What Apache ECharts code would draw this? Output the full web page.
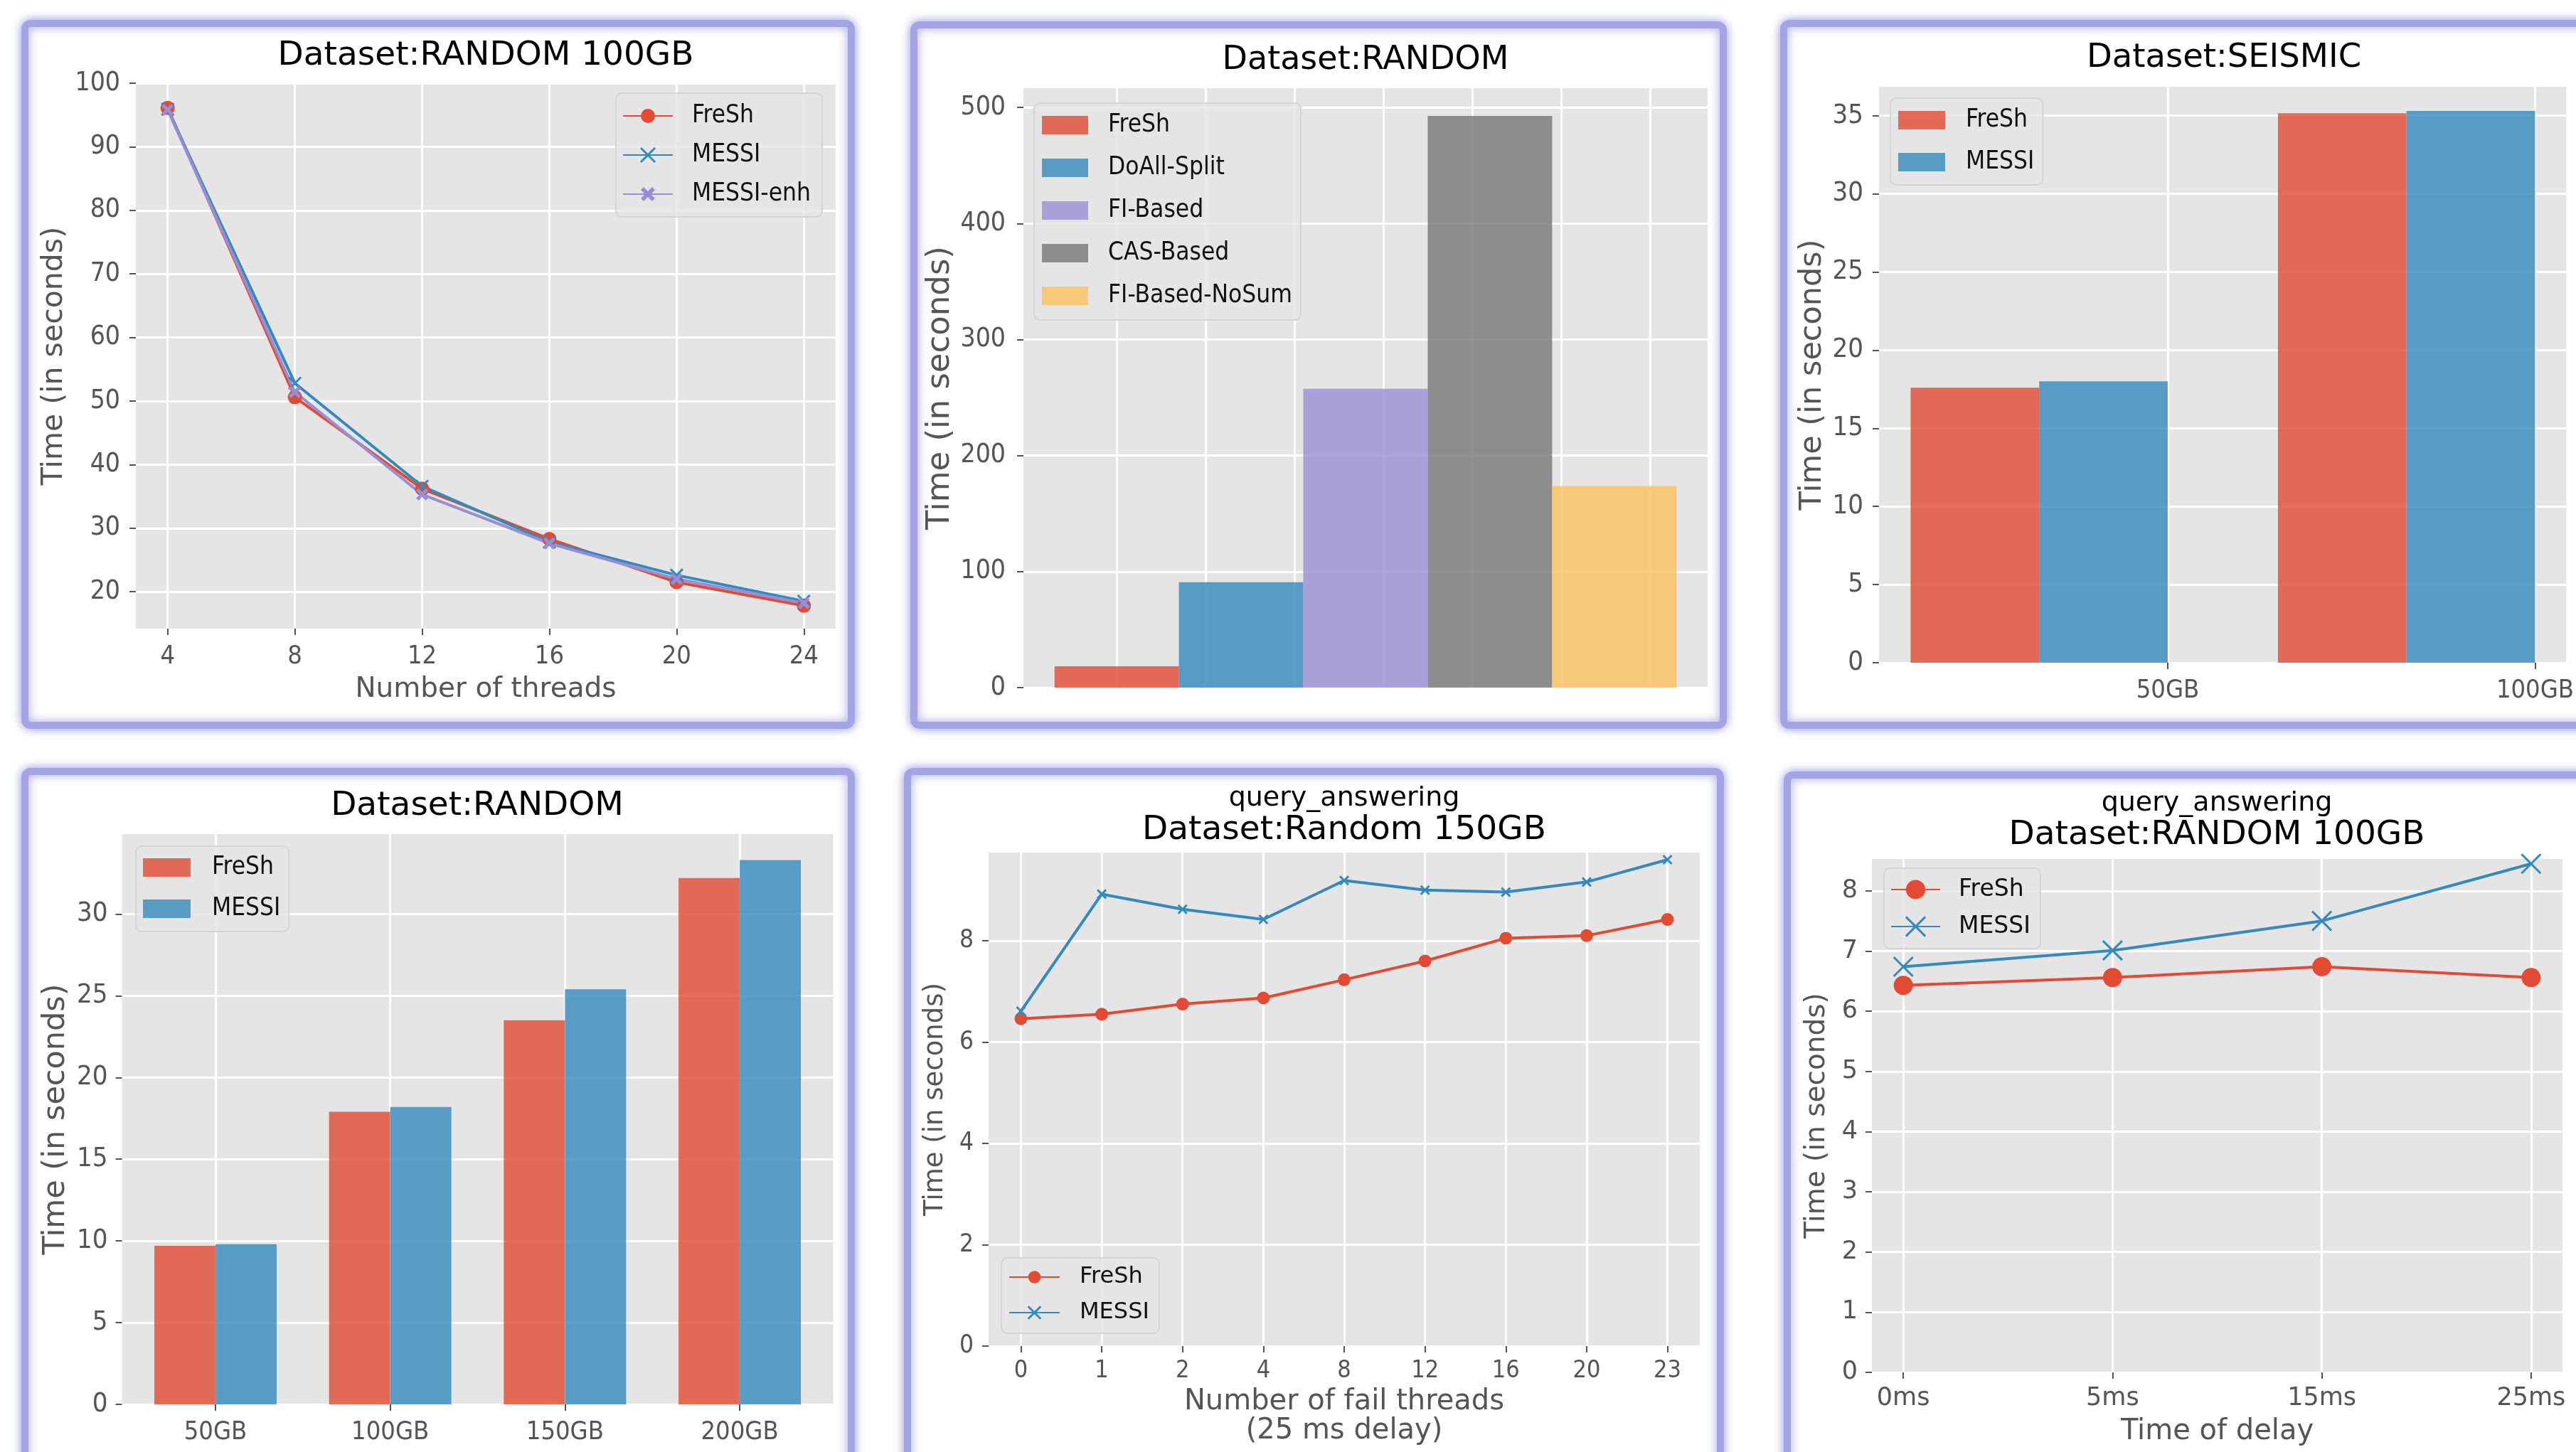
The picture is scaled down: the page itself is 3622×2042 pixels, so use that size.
<!DOCTYPE html>
<html><head><meta charset="utf-8">
<script src="https://cdn.jsdelivr.net/npm/echarts@6/dist/echarts.min.js"></script>
<style>html,body{margin:0;padding:0;background:#fff}#c{width:3622px;height:2042px}</style>
</head><body><div id="c"></div>
<script>
// ---------- DATA ----------
// Panel 1: Dataset:RANDOM 100GB
const p1Threads = [4, 8, 12, 16, 20, 24];
const p1FreSh = [96.1, 50.6, 36.2, 28.3, 21.5, 17.8];
const p1MESSI = [95.9, 52.8, 36.6, 27.8, 22.6, 18.5];
const p1MESSIenh = [95.8, 51.4, 35.3, 27.6, 22.0, 18.2];
const p1YTicks = [20, 30, 40, 50, 60, 70, 80, 90, 100];
// Panel 2: Dataset:RANDOM
const p2Methods = ['FreSh', 'DoAll-Split', 'FI-Based', 'CAS-Based', 'FI-Based-NoSum'];
const p2Times = [18.4, 90.9, 257.6, 492.7, 173.8];
const p2XTicks = [0, 0.1, 0.2, 0.3, 0.4, 0.5, 0.6];
const p2YTicks = [0, 100, 200, 300, 400, 500];
// Panel 3: Dataset:SEISMIC
const p3Sizes = ['50GB', '100GB'];
const p3FreSh = [17.6, 35.15];
const p3MESSI = [18.0, 35.3];
const p3YTicks = [0, 5, 10, 15, 20, 25, 30, 35];
// Panel 4: Dataset:RANDOM
const p4Sizes = ['50GB', '100GB', '150GB', '200GB'];
const p4FreSh = [9.7, 17.9, 23.5, 32.2];
const p4MESSI = [9.8, 18.2, 25.4, 33.3];
const p4YTicks = [0, 5, 10, 15, 20, 25, 30];
// Panel 5: query_answering, Dataset:Random 150GB
const p5FailThreads = ['0', '1', '2', '4', '8', '12', '16', '20', '23'];
const p5FreSh = [6.46, 6.55, 6.75, 6.87, 7.23, 7.60, 8.05, 8.10, 8.42];
const p5MESSI = [6.61, 8.92, 8.62, 8.42, 9.19, 9.00, 8.96, 9.16, 9.60];
const p5YTicks = [0, 2, 4, 6, 8];
// Panel 6: query_answering, Dataset:RANDOM 100GB
const p6Delays = ['0ms', '5ms', '15ms', '25ms'];
const p6FreSh = [6.43, 6.56, 6.74, 6.56];
const p6MESSI = [6.74, 7.01, 7.50, 8.45];
const p6YTicks = [0, 1, 2, 3, 4, 5, 6, 7, 8];

// ---------- STYLE ----------
const RED = '#E24A33', BLUE = '#348ABD', PURPLE = '#988ED5';
const BAR = {
  red: 'rgba(226,74,51,0.8)', blue: 'rgba(52,138,189,0.8)', purple: 'rgba(152,142,213,0.8)',
  gray: 'rgba(119,119,119,0.8)', yellow: 'rgba(251,193,94,0.8)'
};
const COND = 'DejaVu Sans Condensed, DejaVu Sans, sans-serif';
const NORM = 'DejaVu Sans, sans-serif';
const X_THIN = 'path://M0,0L10,10M10,0L0,10';
const X_FAT = 'path://M0,2L2,0L5,3L8,0L10,2L7,5L10,8L8,10L5,7L2,10L0,8L3,5Z';
const idx = arr => arr.map((_, i) => i);

const grids = [
  {left: 191, top: 117, width: 984, height: 767},
  {left: 1439, top: 124, width: 962, height: 843},
  {left: 2642, top: 122, width: 970, height: 810},
  {left: 171.5, top: 1173, width: 1000, height: 802},
  {left: 1390, top: 1199, width: 1000, height: 694},
  {left: 2632, top: 1208, width: 971, height: 722}
].map(g => Object.assign(g, {show: true, backgroundColor: '#E5E5E5', borderWidth: 0}));

function axis(o) {
  return {
    type: 'value', gridIndex: o.grid, min: o.min, max: o.max,
    axisLine: {show: false, onZero: false},
    axisTick: {show: o.tick !== false, customValues: o.ticks, length: 9, lineStyle: {color: '#555', width: 2}},
    axisLabel: {show: o.label !== false, customValues: o.ticks, formatter: o.fmt,
      color: '#555', fontFamily: o.font || COND, fontSize: o.fs || 36, margin: o.margin || 22},
    splitLine: {show: true, lineStyle: {color: '#fff', width: 3}},
    name: o.name, nameLocation: 'middle', nameGap: o.gap, nameRotate: o.rot,
    nameTextStyle: {color: '#555', fontFamily: NORM, fontSize: o.nfs || 40, lineHeight: o.nlh}
  };
}

const xAxes = [
  axis({grid: 0, min: 3, max: 25, ticks: p1Threads, fs: 36, name: 'Number of threads', gap: 66, nfs: 39}),
  axis({grid: 1, min: -0.105, max: 0.665, ticks: p2XTicks, tick: false, label: false}),
  axis({grid: 2, min: -0.786, max: 1.085, ticks: idx(p3Sizes), fmt: v => p3Sizes[Math.round(v)], fs: 36}),
  axis({grid: 3, min: -0.535, max: 3.535, ticks: idx(p4Sizes), fmt: v => p4Sizes[Math.round(v)], fs: 36}),
  axis({grid: 4, min: -0.4, max: 8.4, ticks: idx(p5FailThreads), fmt: v => p5FailThreads[Math.round(v)], fs: 34, margin: 18,
        name: 'Number of fail threads\n(25 ms delay)', gap: 58, nfs: 40, nlh: 41}),
  axis({grid: 5, min: -0.15, max: 3.15, ticks: idx(p6Delays), fmt: v => p6Delays[Math.round(v)], font: NORM, fs: 35, margin: 19,
        name: 'Time of delay', gap: 64, nfs: 40})
];
const yAxes = [
  axis({grid: 0, min: 14.2, max: 100, ticks: p1YTicks, fs: 37, name: 'Time (in seconds)', gap: 94, rot: 90, nfs: 41, margin: 22}),
  axis({grid: 1, min: 0, max: 516.6, ticks: p2YTicks, fs: 37, name: 'Time (in seconds)', gap: 94, rot: 90, nfs: 45, margin: 25}),
  axis({grid: 2, min: 0, max: 36.85, ticks: p3YTicks, fs: 38, name: 'Time (in seconds)', gap: 72, rot: 90, nfs: 43}),
  axis({grid: 3, min: 0, max: 34.89, ticks: p4YTicks, fs: 38, name: 'Time (in seconds)', gap: 71, rot: 90, nfs: 43, margin: 20}),
  axis({grid: 4, min: 0, max: 9.74, ticks: p5YTicks, fs: 35, name: 'Time (in seconds)', gap: 56, rot: 90, nfs: 37, margin: 21}),
  axis({grid: 5, min: 0, max: 8.53, ticks: p6YTicks, font: NORM, fs: 35, name: 'Time (in seconds)', gap: 58, rot: 90, nfs: 39, margin: 20})
];

function line(name, g, color, xs, ys, symbol, size, strokeSymbol) {
  return {
    type: 'line', name: name, xAxisIndex: g, yAxisIndex: g,
    data: xs.map((x, i) => [x, ys[i]]),
    symbol: symbol, symbolSize: size, showSymbol: true, showAllSymbol: true,
    itemStyle: strokeSymbol ? {color: color, borderColor: color, borderWidth: 3} : {color: color, borderWidth: 0},
    lineStyle: {color: color, width: 4}, z: 3
  };
}
function bars(name, g, color, values, center, width) {
  return {
    type: 'custom', name: name, xAxisIndex: g, yAxisIndex: g,
    itemStyle: {color: color},
    data: values.map((v, i) => [i, v]),
    encode: {x: 0, y: 1},
    renderItem: function (params, api) {
      const c = center(api.value(0));
      const a = api.coord([c - width / 2, api.value(1)]);
      const b = api.coord([c + width / 2, 0]);
      return {type: 'rect', shape: {x: a[0], y: a[1], width: b[0] - a[0], height: b[1] - a[1]}, style: api.style()};
    }
  };
}

const series = [
  line('FreSh@1', 0, RED, p1Threads, p1FreSh, 'circle', 20, false),
  line('MESSI@1', 0, BLUE, p1Threads, p1MESSI, X_THIN, 17, true),
  line('MESSI-enh@1', 0, PURPLE, p1Threads, p1MESSIenh, X_FAT, 17, false),
  line('FreSh@5', 4, RED, idx(p5FailThreads), p5FreSh, 'circle', 18, false),
  line('MESSI@5', 4, BLUE, idx(p5FailThreads), p5MESSI, X_THIN, 12, true),
  line('FreSh@6', 5, RED, idx(p6Delays), p6FreSh, 'circle', 27, false),
  line('MESSI@6', 5, BLUE, idx(p6Delays), p6MESSI, X_THIN, 27, true)
];
const p2Colors = [BAR.red, BAR.blue, BAR.purple, BAR.gray, BAR.yellow];
p2Methods.forEach((m, k) => {
  series.push(bars(m + '@2', 1, p2Colors[k], [p2Times[k]], i => k * 0.14, 0.14));
});
series.push(bars('FreSh@3', 2, BAR.red, p3FreSh, i => i - 0.525, 0.35));
series.push(bars('MESSI@3', 2, BAR.blue, p3MESSI, i => i - 0.175, 0.35));
series.push(bars('FreSh@4', 3, BAR.red, p4FreSh, i => i - 0.175, 0.35));
series.push(bars('MESSI@4', 3, BAR.blue, p4MESSI, i => i + 0.175, 0.35));

function legend(o) {
  return {
    data: o.data, left: o.left, top: o.top, orient: 'vertical',
    itemWidth: o.iw, itemHeight: o.ih, itemGap: o.gap, padding: o.pad,
    selectedMode: false, formatter: n => n.split('@')[0],
    backgroundColor: 'rgba(229,229,229,0.8)', borderColor: '#d4d4d4', borderWidth: 2, borderRadius: 8,
    textStyle: {fontFamily: o.font || COND, fontSize: o.fs || 35, color: '#111', lineHeight: o.lh || 40, padding: [0, 0, 0, o.tp]}
  };
}
const xItem = n => ({name: n, itemStyle: {borderWidth: 3}});
const legends = [
  legend({data: ['FreSh@1', xItem('MESSI@1'), 'MESSI-enh@1'], left: 866, top: 131, iw: 70, ih: 25, gap: 15, pad: [12, 16, 12, 9], tp: 22}),
  legend({data: p2Methods.map(m => ({name: m + '@2', icon: 'rect'})), left: 1454, top: 145, iw: 65, ih: 26, gap: 20, pad: [11, 12, 14, 11], tp: 23}),
  legend({data: [{name: 'FreSh@3', icon: 'rect'}, {name: 'MESSI@3', icon: 'rect'}], left: 2658, top: 138, iw: 66, ih: 26, gap: 19, pad: [11, 12, 12, 11], tp: 24}),
  legend({data: [{name: 'FreSh@4', icon: 'rect'}, {name: 'MESSI@4', icon: 'rect'}], left: 191, top: 1190, iw: 67, ih: 26, gap: 18, pad: [10, 12, 12, 10], tp: 25}),
  legend({data: ['FreSh@5', xItem('MESSI@5')], left: 1408, top: 1769, iw: 71, ih: 22, gap: 14, pad: [9, 14, 11, 10], tp: 23, font: NORM, fs: 32, lh: 36}),
  legend({data: ['FreSh@6', xItem('MESSI@6')], left: 2649, top: 1221, iw: 69, ih: 34, gap: 14, pad: [11, 14, 12, 9], tp: 21, font: NORM, fs: 33, lh: 38})
];

function title(text, x, y, fs) {
  return {text: text, left: x, top: y, textAlign: 'center', textVerticalAlign: 'middle', padding: 0,
    textStyle: {fontFamily: NORM, fontSize: fs, fontWeight: 'normal', color: '#000'}};
}
const titles = [
  title('Dataset:RANDOM 100GB', 683, 79, 47),
  title('Dataset:RANDOM', 1920, 85, 46),
  title('Dataset:SEISMIC', 3127, 82, 46.5),
  title('Dataset:RANDOM', 671, 1134, 47),
  title('query_answering', 1890, 1123, 38),
  title('Dataset:Random 150GB', 1890, 1168, 47),
  title('query_answering', 3117, 1130, 38),
  title('Dataset:RANDOM 100GB', 3117, 1175, 47)
];

const frames = [
  [35, 33, 1162, 987], [1285, 35, 1138, 985], [2508, 33, 1140, 987],
  [35, 1085, 1162, 990], [1276, 1085, 1143, 990], [2513, 1090, 1140, 990]
];
const graphic = frames.map(f => ({
  type: 'rect', z: -10, silent: true,
  shape: {x: f[0], y: f[1], width: f[2], height: f[3], r: 8},
  style: {fill: '#fff', stroke: '#a3a3e6', lineWidth: 10, shadowBlur: 14, shadowColor: 'rgba(150,150,225,0.9)'}
}));

const chart = echarts.init(document.getElementById('c'), null, {renderer: 'canvas'});
chart.setOption({
  backgroundColor: '#fff', animation: false,
  title: titles, grid: grids, xAxis: xAxes, yAxis: yAxes, legend: legends, series: series, graphic: graphic
});
</script></body></html>
